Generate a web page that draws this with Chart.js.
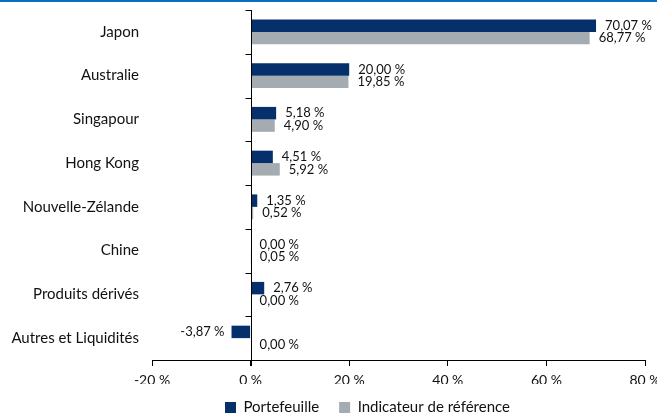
<!DOCTYPE html>
<html>
<head>
<meta charset="utf-8">
<script src="https://cdn.jsdelivr.net/npm/chart.js@4.4.1/dist/chart.umd.min.js"></script>
<style>
  body { margin: 0; background: #fff; }
  #wrap { position: relative; width: 657px; height: 414px; }
  #topline { position: absolute; left: 0; top: 0; width: 657px; height: 2px; background: #0a6fc2; }
</style>
</head>
<body>
<div id="wrap">
  <div id="topline"></div>
  <canvas id="myChart" width="657" height="414"></canvas>
</div>
<script>
// categories and values (in %)
var categories = ['Japon', 'Australie', 'Singapour', 'Hong Kong', 'Nouvelle-Zélande', 'Chine', 'Produits dérivés', 'Autres et Liquidités'];
var portefeuille = [70.07, 20.00, 5.18, 4.51, 1.35, 0.00, 2.76, -3.87];
var indicateur = [68.77, 19.85, 4.90, 5.92, 0.52, 0.05, 0.00, 0.00];
var xTicks = [-20, 0, 20, 40, 60, 80];

var FONT = 'Lato, "Noto Sans", sans-serif';
var TEXT = '#111';

function fmt(v) {
  return v.toFixed(2).replace('.', ',') + ' %';
}

// draws the value next to each bar
var valueLabels = {
  id: 'valueLabels',
  afterDatasetsDraw: function(chart) {
    var ctx = chart.ctx;
    ctx.save();
    ctx.font = '13px ' + FONT;
    ctx.fillStyle = TEXT;
    ctx.textBaseline = 'middle';
    chart.data.datasets.forEach(function(ds, i) {
      var meta = chart.getDatasetMeta(i);
      meta.data.forEach(function(bar, j) {
        var v = ds.data[j];
        if (v < 0) {
          ctx.textAlign = 'right';
          ctx.fillText(fmt(v), bar.x - 7, bar.y);
        } else {
          ctx.textAlign = 'left';
          ctx.fillText(fmt(v), bar.x + 9, bar.y);
        }
      });
    });
    ctx.restore();
  }
};

// zero axis line with small tick marks between categories
var zeroAxis = {
  id: 'zeroAxis',
  afterDatasetsDraw: function(chart) {
    var ctx = chart.ctx;
    var x0 = Math.round(chart.scales.x.getPixelForValue(0)) + 0.5;
    var area = chart.chartArea;
    var step = (area.bottom - area.top) / categories.length;
    ctx.save();
    ctx.strokeStyle = '#000';
    ctx.lineWidth = 1;
    ctx.beginPath();
    ctx.moveTo(x0, area.top);
    ctx.lineTo(x0, area.bottom + 6);
    for (var i = 0; i < categories.length; i++) {
      var y = Math.round(area.top + i * step) + 0.5;
      ctx.moveTo(x0 - 6, y);
      ctx.lineTo(x0, y);
    }
    ctx.stroke();
    ctx.restore();
  }
};

// fixed legend height, legend a bit right of center
var legendFix = {
  id: 'legendFix',
  afterInit: function(chart) {
    var lg = chart.legend;
    var fit = lg.fit;
    lg.fit = function() {
      fit.call(this);
      this.height = 30;
    };
  },
  afterLayout: function(chart) {
    var lg = chart.legend;
    lg.left += 39; lg.right += 39;
    lg.top -= 4;
  }
};

var ctx = document.getElementById('myChart');
var myChart = new Chart(ctx, {
  type: 'bar',
  data: {
    labels: categories,
    datasets: [
      {
        label: 'Portefeuille',
        data: portefeuille,
        backgroundColor: '#05306b',
        categoryPercentage: 0.57,
        barPercentage: 1
      },
      {
        label: 'Indicateur de référence',
        data: indicateur,
        backgroundColor: '#a5acb1',
        categoryPercentage: 0.57,
        barPercentage: 1
      }
    ]
  },
  options: {
    indexAxis: 'y',
    responsive: false,
    animation: false,
    layout: { padding: { top: 10, right: 0, left: 0, bottom: 0 } },
    plugins: {
      legend: {
        position: 'bottom',
        labels: {
          font: { family: FONT, size: 15 },
          color: TEXT,
          boxWidth: 11,
          boxHeight: 11,
          padding: 20
        }
      },
      tooltip: { enabled: false }
    },
    scales: {
      x: {
        min: -20,
        max: 80,
        afterBuildTicks: function(scale) {
          scale.ticks = xTicks.map(function(v) { return { value: v }; });
        },
        ticks: {
          font: { family: FONT, size: 14 },
          color: TEXT,
          padding: 6,
          maxRotation: 0,
          callback: function(v) { return v + ' %'; }
        },
        grid: {
          drawOnChartArea: false,
          tickLength: 6,
          tickColor: '#000'
        },
        border: { display: true, color: '#000' },
        afterFit: function(scale) {
          scale.height = 24;
          scale.paddingLeft = 0;
          scale.paddingRight = 12;
        }
      },
      y: {
        grid: { display: false },
        border: { display: false },
        ticks: {
          font: { family: FONT, size: 15 },
          color: TEXT,
          padding: 5
        },
        afterFit: function(scale) {
          scale.width = 152;
          scale.paddingTop = 0;
          scale.paddingBottom = 0;
        }
      }
    }
  },
  plugins: [valueLabels, zeroAxis, legendFix]
});
</script>
</body>
</html>
